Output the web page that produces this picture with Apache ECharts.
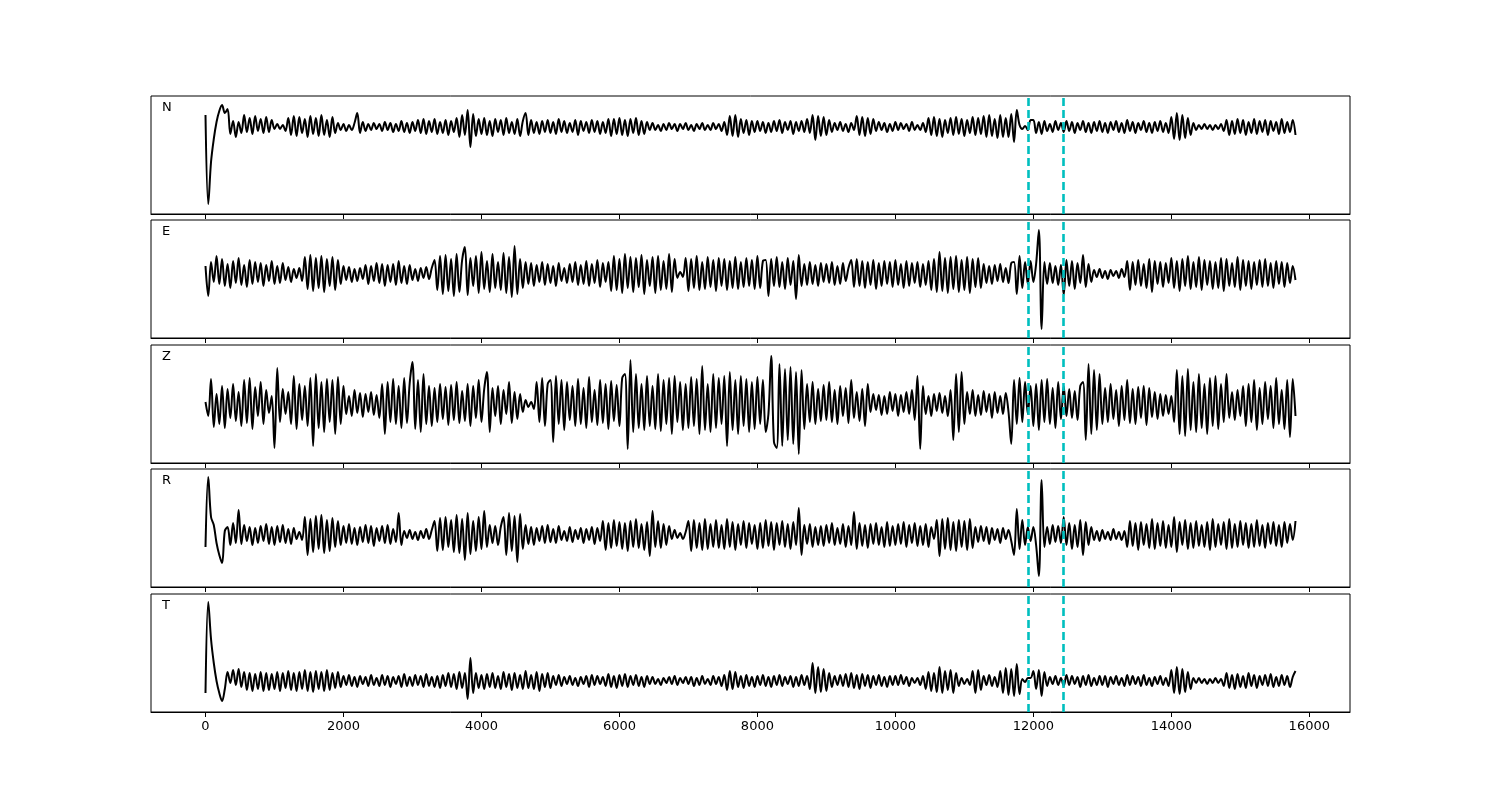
<!DOCTYPE html>
<html>
<head>
<meta charset="utf-8">
<script src="https://cdn.jsdelivr.net/npm/echarts@6/dist/echarts.min.js"></script>
<style>
  html, body { margin: 0; padding: 0; background: #fff; }
  #chart { width: 1500px; height: 800px; }
</style>
</head>
<body>
<div id="chart"></div>
<script>
// trace samples, one every 40 units from 0 to 15800 (25 per row = 1000 units)
const sampleStep = 40
const channels = ['N', 'E', 'Z', 'R', 'T']
const xTicks = [0, 2000, 4000, 6000, 8000, 10000, 12000, 14000, 16000]
const picks = [11930, 12435]

const traceN = [
  12,-77,-35,-12,5,16,22,14,18,-7,6,-10,5,-6,12,-5,9,-7,11,-4,8,-6,10,-5,7,
  -2,3,-2,2,-4,9,-8,11,-9,10,-6,8,-10,11,-7,9,-9,12,-8,7,-10,10,-6,4,-3,
  3,-4,2,-3,4,14,-6,5,-4,3,-3,4,-2,3,-4,5,-3,4,-5,3,-4,6,-5,4,-6,
  5,-4,7,-6,8,-7,6,-5,8,-7,5,-6,7,-8,6,-5,9,-10,12,-8,17,-20,13,-9,8,
  -7,9,-8,6,-9,8,-5,7,-8,9,-6,5,-7,8,-9,6,14,-8,7,-6,5,-7,6,-5,7,
  -6,5,-7,8,-5,6,-6,4,-5,7,-8,6,-4,5,-6,7,-5,6,-7,5,-6,8,-9,8,-7,
  9,-8,7,-9,8,-6,9,-8,6,-7,5,-3,4,-3,2,-4,3,-3,4,-2,3,-4,3,-2,4,
  -3,2,-4,3,-2,4,-3,2,-3,4,-2,3,-4,5,-8,11,-9,12,-10,8,-6,7,-8,6,-5,
  6,-4,5,-6,4,-5,6,-4,7,-6,5,-3,6,-7,5,-4,6,-5,8,-6,12,-13,11,-9,10,
  -8,7,-5,4,-3,5,-4,3,-5,4,-3,11,-8,10,-9,9,-7,8,-4,5,-3,4,-5,3,-4,
  5,-3,4,-2,3,-4,5,-3,2,-3,4,-5,9,-8,10,-9,8,-10,7,-6,9,-8,10,-7,8,
  -9,7,-6,10,-8,9,-7,11,-10,12,-9,8,-11,12,-10,9,-10,13,-15,17,2,-2,1,-3,7,
  7,-6,5,-7,6,-4,3,-5,6,-3,4,-5,6,-4,5,-6,4,-3,6,-5,4,-6,5,-4,6,
  -5,4,-6,5,-3,6,-5,4,-6,7,-4,5,-6,4,-3,6,-5,4,-6,5,-4,6,-5,4,-6,
  10,-12,14,-13,12,-11,9,-8,4,-3,2,-2,3,-2,2,-3,2,-2,3,-4,7,-8,6,-7,8,
  -6,7,-8,5,-6,8,-7,6,-5,7,-8,6,-4,5,-7,8,-6,5,-5,7,-8
]

const traceE = [
  8,-22,12,-8,18,-10,15,-12,10,-14,13,-9,16,-11,9,-13,14,-10,12,-8,11,-12,9,-7,13,
  -10,8,-9,11,-6,7,-8,5,-4,6,-7,17,-15,19,-17,16,-14,18,-18,15,-12,17,-16,14,-10,
  8,-6,7,-8,5,-7,6,-5,9,-10,8,-7,11,-9,10,-12,9,-8,10,-11,13,-9,8,-10,9,
  -6,5,-7,6,-4,7,-5,6,14,-16,18,-20,19,-17,15,-22,20,-18,14,27,-21,16,-12,18,-19,
  22,-15,13,-18,20,-14,12,-16,21,-19,17,-23,28,-20,15,-14,12,-10,11,-12,9,-8,12,-11,10,
  -9,8,-12,11,-7,6,-9,10,-8,12,-11,9,-10,13,-12,10,-9,14,-13,11,-8,12,-17,18,-16,
  15,-19,20,-14,17,-18,16,-13,19,-20,14,-12,17,-19,18,-16,13,-15,20,-18,15,-4,2,-3,16,
  -17,15,-14,18,-16,12,-15,17,-13,14,-17,16,-12,15,-16,13,-14,17,-15,12,-13,16,-12,14,-15,
  18,-14,13,14,-22,15,-12,17,-13,12,-15,16,-11,13,-25,19,-12,10,-11,12,-10,9,-12,11,-8,
  10,-9,12,-11,8,-10,11,-7,6,14,-13,15,-12,13,-14,12,-11,14,-15,11,-12,13,-10,12,-13,
  14,-11,10,-14,13,-12,11,-9,12,-13,10,-11,13,-16,15,-18,22,-17,16,-19,17,-15,18,-18,14,
  -16,17,-19,15,-13,16,-14,10,-9,8,-10,9,-7,10,-8,6,-9,11,12,-20,18,-14,12,-10,13,
  -8,10,44,-55,12,-10,11,-9,8,-11,9,-21,14,-12,13,-15,11,-9,19,-13,10,-8,4,-3,5,
  -4,3,-5,4,-2,3,-4,5,-3,13,-16,12,-11,14,-12,10,-14,15,-18,13,-10,12,-13,11,-9,
  16,-14,13,-17,15,-12,18,-15,12,-13,17,-16,14,-11,13,-15,12,-14,16,-17,15,-12,11,-13,17,
  -16,14,-12,13,-15,12,-11,14,-13,15,-12,11,-14,13,-10,12,-13,11,-9,8,-6
]

const traceZ = [
  2,-12,25,-23,10,-20,18,-24,15,-14,20,-17,12,-22,24,-19,26,-25,17,-12,22,-20,14,-9,8,
  -44,36,-18,15,-10,12,-20,28,-25,20,-16,18,-22,26,-42,30,-24,22,-28,25,-18,24,-30,27,-20,
  18,-10,8,-12,14,-9,11,-13,10,-8,12,-11,9,-14,20,-30,22,-18,25,-20,18,-24,26,-19,21,
  42,-25,24,-28,30,-20,18,-22,16,-18,20,-15,17,-21,19,-16,22,-19,13,-17,20,-22,18,-14,24,
  -18,15,32,-28,16,-12,18,-20,14,-10,22,-19,12,-15,10,-8,4,-3,2,-5,22,-18,26,-22,20,
  24,-38,28,-20,24,-26,22,-16,18,-22,25,-20,16,-24,27,-18,14,-21,24,-19,20,-25,23,-17,19,
  -22,26,30,-45,44,-28,30,-24,20,-26,28,-22,18,-25,30,-27,24,-20,26,-30,28,-18,22,-26,20,
  -24,27,-22,25,-30,38,-26,20,-28,30,-24,26,-20,28,-42,32,-26,24,-30,28,-22,25,-28,22,-25,
  27,-20,24,-28,-10,48,-38,-44,40,-42,35,-36,37,-40,32,-50,34,-25,20,-18,22,-20,15,-17,19,
  -16,22,-18,14,-20,18,-12,16,-19,24,-14,12,-17,15,-22,20,-8,10,-6,9,-11,8,-10,12,-7,
  10,-12,9,-8,12,-10,14,-16,28,-45,18,-10,8,-12,10,-7,11,-9,8,-12,14,-36,30,-28,32,
  -20,12,-10,14,-12,9,-11,13,-8,10,-14,12,-9,8,-10,11,-8,-40,24,-20,26,-18,22,-10,18,
  -22,20,-26,24,-18,25,-20,16,-24,22,-15,18,-12,15,-14,13,-16,18,22,-36,40,-30,34,-26,30,
  -20,16,-18,20,-15,14,-22,18,-16,24,-19,15,-20,17,-14,18,-21,16,-13,12,-15,10,-12,9,-10,
  8,-18,34,-30,28,-32,35,-26,22,-28,30,-24,20,-30,26,-22,28,-25,20,-18,30,-14,12,-16,14,
  -12,18,-22,20,-18,24,-26,16,-20,22,-15,18,-24,26,-20,14,-25,24,-33,25,-12
]

const traceR = [
  -12,58,18,10,-8,-20,-28,4,8,-10,12,-8,25,-9,10,-6,8,-10,7,-8,9,-6,11,-9,8,
  -10,9,-7,10,-8,6,-9,7,-4,3,-5,18,-20,16,-17,19,-14,20,-18,15,-16,17,-12,14,-10,
  9,-8,11,-9,7,-10,8,-7,10,-8,9,-11,7,-6,9,-8,10,-9,6,-7,22,-10,4,-3,5,
  -4,3,-5,4,-3,6,-4,5,14,-16,17,-15,18,-12,15,-17,20,-18,16,-25,22,-19,14,-16,18,
  -14,24,-12,10,-8,9,-10,8,18,-20,22,-16,19,-27,21,-14,10,-9,8,-10,7,-6,9,-8,10,
  -7,6,-8,9,-5,4,-6,8,-7,5,-4,7,-8,6,-5,8,-9,7,-6,14,-15,12,-13,15,-11,
  13,-14,12,-16,14,-12,16,-13,11,-15,13,-21,24,-12,14,-13,11,-10,9,-4,5,-3,2,-4,3,
  14,-16,15,-13,12,-15,16,-14,11,-12,15,-13,10,-14,16,-12,13,-15,11,-10,14,-13,12,-9,10,
  -14,12,-13,15,-11,13,-15,12,-10,14,-12,11,-14,13,-10,27,-20,10,-9,11,-12,8,-10,9,-11,
  10,-8,12,-10,7,-9,11,-12,9,-10,23,-14,12,-11,10,-13,11,-9,12,-10,8,-12,13,-11,9,
  -10,11,-9,13,-12,10,-8,12,-11,9,-10,11,-12,8,-4,15,-21,16,-14,17,-15,13,-16,15,-12,
  14,-15,16,-13,8,-7,9,-6,8,-9,7,-5,6,-8,7,-4,5,-6,-20,26,-14,15,-10,8,-6,
  8,-10,-41,55,-12,8,-9,10,-7,9,-8,18,-10,12,-14,10,-12,15,-20,13,-10,8,-5,4,-6,
  5,-4,3,-5,6,-4,3,-5,4,-12,14,-11,12,-15,13,-10,11,-13,16,-14,12,-11,14,-13,10,
  -12,18,-17,13,-10,15,-14,12,-13,14,-11,10,-12,13,-15,16,-12,11,-10,13,-14,16,-13,11,-12,
  14,-10,12,-13,11,-12,15,-11,10,-13,12,-9,13,-11,10,-12,13,-8,11,-5,14
]

const traceT = [
  -12,79,42,18,0,-12,-20,-8,9,-2,11,-4,12,-6,9,-9,8,-10,7,-8,9,-10,8,-9,7,
  -8,9,-10,8,-7,10,-9,8,-10,9,-8,11,-10,9,-11,10,-8,9,-10,11,-9,8,-7,9,-6,
  5,-4,6,-5,4,-6,5,-3,4,-5,6,-4,3,-5,6,-4,5,-6,4,-3,5,-6,7,-5,4,
  -5,6,-4,5,-6,7,-5,4,-6,5,-7,6,-5,8,-6,7,-8,9,-7,8,-18,23,-12,8,-7,
  6,-8,7,-6,8,-7,5,-8,9,-6,7,-9,8,-7,6,-8,10,-7,6,-8,9,-10,7,-6,8,
  -7,5,-4,6,-5,4,-3,5,-4,3,-5,4,-3,5,-6,6,-4,5,-3,4,-5,7,-6,5,-7,
  6,-5,7,-6,5,-4,6,-5,4,-6,5,-3,4,-3,2,-4,3,-2,4,-3,5,-4,3,-2,4,
  -3,4,-5,3,-4,5,-3,2,-4,5,-3,4,-5,6,-9,10,-8,9,-6,5,-7,6,-5,4,-6,
  5,-4,6,-5,4,-6,5,-4,6,-5,4,-3,5,-6,4,-5,6,-4,5,-8,18,-12,14,-11,12,
  -10,8,-6,5,-4,6,-5,7,-6,8,-7,6,-8,7,-5,6,-7,5,-4,6,-5,4,-6,5,-4,
  5,-4,6,-3,4,-5,3,-2,3,-4,5,-8,9,-10,8,-11,14,-12,10,-9,11,-12,8,-5,3,
  -3,2,-4,10,-12,11,-9,5,-4,6,-5,4,-6,10,-12,13,-14,12,-15,17,-13,2,-1,3,3,
  10,-8,11,-15,9,-5,4,-3,5,-4,3,-5,6,-4,5,-3,4,-6,5,-4,6,-5,3,-4,5,
  -4,5,-6,4,-3,5,-4,3,-5,6,-4,5,-3,4,-5,6,-4,3,-5,4,-3,5,-4,3,-5,
  11,-12,14,-13,12,-11,9,-8,3,-2,3,-2,2,-3,2,-2,3,-2,2,-5,8,-7,6,-8,7,
  -6,5,-7,8,-5,6,-7,5,-4,6,-5,7,-6,4,-5,6,-4,5,-6,4,10
]

const traces = [traceN, traceE, traceZ, traceR, traceT]
// y range per panel (same units as the traces)
const yMin = [-87, -64, -59, -52, -31]
const yMax = [31, 54, 59, 66, 87]

const gridTops = [96, 220, 345, 469, 594]
const font = 'DejaVu Sans'

const chart = echarts.init(document.getElementById('chart'), null, { renderer: 'canvas' })

const grids = [], xAxes = [], yAxes = [], series = [], titles = []
traces.forEach((trace, i) => {
  const last = i === traces.length - 1
  grids.push({
    left: 151, width: 1199, top: gridTops[i], height: 118,
    show: true, borderColor: '#000', borderWidth: 1, backgroundColor: 'transparent',
  })
  xAxes.push({
    gridIndex: i, type: 'value', min: -790, max: 16590,
    axisLine: { show: true, onZero: false, lineStyle: { color: '#000', width: 1 } },
    axisTick: { show: true, length: 5, customValues: xTicks, lineStyle: { color: '#000' } },
    axisLabel: {
      show: last, customValues: xTicks, margin: 8,
      formatter: v => String(v),
      color: '#000', fontSize: 13, fontFamily: font,
    },
    splitLine: { show: false },
  })
  yAxes.push({
    gridIndex: i, type: 'value', min: yMin[i], max: yMax[i],
    axisLine: { show: false }, axisTick: { show: false },
    axisLabel: { show: false }, splitLine: { show: false },
  })
  series.push({
    type: 'line', xAxisIndex: i, yAxisIndex: i,
    data: trace.map((v, k) => [k * sampleStep, v]),
    showSymbol: false, silent: true, smooth: 0.35,
    lineStyle: { color: '#000', width: 2 },
    markLine: {
      silent: true, symbol: 'none',
      label: { show: false },
      lineStyle: { color: '#00bfbf', width: 2.6, type: [8, 4] },
      data: picks.map(p => ({ xAxis: p })),
    },
  })
  titles.push({
    text: channels[i], left: 162, top: gridTops[i] + 5, padding: 0,
    textStyle: { fontSize: 13, fontWeight: 'normal', color: '#000', fontFamily: font },
  })
})

chart.setOption({
  animation: false,
  backgroundColor: '#fff',
  title: titles,
  grid: grids,
  xAxis: xAxes,
  yAxis: yAxes,
  series,
})
</script>
</body>
</html>
